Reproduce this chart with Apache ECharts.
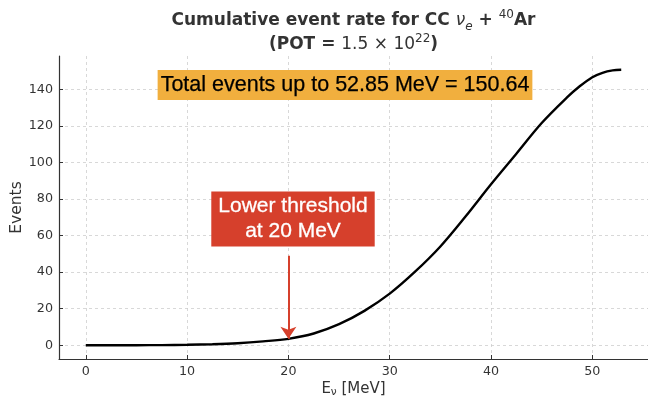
<!DOCTYPE html>
<html>
<head>
<meta charset="utf-8">
<script src="https://cdn.jsdelivr.net/npm/echarts@6/dist/echarts.min.js"></script>
<style>html,body{margin:0;padding:0;background:#fff}#c{width:648px;height:396px}</style>
</head>
<body>
<div id="c"></div>
<script>
// ---- data ----
const energies = [0, 2.5, 5, 7.5, 10, 12.5, 15, 17.5, 20, 22.5, 25, 27.5, 30, 32.5, 35, 37.5, 40, 42.5, 45, 47.5, 48.75, 50, 51, 52, 52.85];
const events   = [0, 0.0, 0.02, 0.08, 0.25, 0.55, 1.1, 2.1, 3.5, 6.4, 11.5, 18.8, 28.2, 40.2, 54.0, 70.5, 88.0, 104.7, 121.5, 135.5, 141.6, 146.6, 149.0, 150.3, 150.64];
const xTicks = [0, 10, 20, 30, 40, 50];
const yTicks = [0, 20, 40, 60, 80, 100, 120, 140];
const thresholdE = 20;
const thresholdEvents = 3.5;
const arrowStartEvents = 49;
const maxEnergy = 52.85;
const totalEvents = 150.64;

const xMin = -0.05 * maxEnergy, xMax = maxEnergy * 1.05;
const yMin = -0.05 * totalEvents, yMax = totalEvents * 1.05;

const axisColor = '#333';
const gridStyle = { color: '#cfcfcf', type: [3, 3], width: 0.8 };
const font = 'DejaVu Sans';

const chart = echarts.init(document.getElementById('c'), null, { renderer: 'canvas' });
chart.setOption({
  animation: false,
  grid: { left: 59, right: 0, top: 56, bottom: 37, containLabel: false, outerBoundsMode: 'none' },
  xAxis: {
    type: 'value', min: xMin, max: xMax,
    axisLine: { onZero: false, lineStyle: { color: axisColor, width: 1.2 } },
    axisTick: { inside: true, length: 4, customValues: xTicks, lineStyle: { color: axisColor } },
    axisLabel: { customValues: xTicks, margin: 6, color: axisColor, fontFamily: font, fontSize: 12.7 },
    splitLine: { show: true, lineStyle: gridStyle },
    name: '{n|E}{s|ν}{n| [MeV]}',
    nameLocation: 'middle', nameGap: 21, nameMoveOverlap: false,
    nameTextStyle: {
      rich: {
        n: { fontFamily: font, fontSize: 15, color: axisColor, lineHeight: 18 },
        s: { fontFamily: font, fontSize: 10.5, color: axisColor, lineHeight: 12, verticalAlign: 'bottom' }
      }
    }
  },
  yAxis: {
    type: 'value', min: yMin, max: yMax,
    axisLine: { show: true, onZero: false, lineStyle: { color: axisColor, width: 1.2 } },
    axisTick: { show: true, inside: true, length: 4, customValues: yTicks, lineStyle: { color: axisColor } },
    axisLabel: { customValues: yTicks, margin: 6, color: axisColor, fontFamily: font, fontSize: 12.7 },
    splitLine: { show: true, lineStyle: gridStyle },
    name: 'Events', nameLocation: 'middle', nameGap: 34, nameMoveOverlap: false,
    nameTextStyle: { fontFamily: font, fontSize: 15.5, color: axisColor }
  },
  series: [{
    type: 'line',
    data: energies.map((e, i) => [e, events[i]]),
    showSymbol: false, smooth: 0.35,
    lineStyle: { color: '#000', width: 2.4 },
    markLine: {
      silent: true, animation: false,
      symbol: ['none', 'arrow'], symbolSize: 12,
      label: { show: false },
      lineStyle: { color: '#D6402C', width: 2, type: 'solid' },
      data: [[{ coord: [thresholdE, arrowStartEvents] }, { coord: [thresholdE, thresholdEvents] }]]
    }
  }],
  graphic: [
    {
      type: 'text', x: 353.5, y: 9, z: 100,
      style: {
        text: '{b|Cumulative event rate for CC }{i|ν}{sub|e}{b| + }{sup|40}{b|Ar}\n{b|(POT = }{m|1.5 × 10}{sup|22}{b|)}',
        align: 'center', verticalAlign: 'top',
        rich: {
          b: { fontFamily: font, fontWeight: 'bold', fontSize: 17, fill: '#333', lineHeight: 24 },
          i: { fontFamily: font, fontStyle: 'italic', fontSize: 17, fill: '#333', lineHeight: 24 },
          m: { fontFamily: font, fontSize: 17, fill: '#333', lineHeight: 24 },
          sub: { fontFamily: font, fontStyle: 'italic', fontSize: 12, fill: '#333', lineHeight: 14, verticalAlign: 'bottom' },
          sup: { fontFamily: font, fontSize: 12, fill: '#333', lineHeight: 14, verticalAlign: 'top' }
        }
      }
    },
    {
      type: 'text', x: 345, y: 85, z: 100,
      style: {
        text: 'Total events up to ' + maxEnergy.toFixed(2) + ' MeV = ' + totalEvents.toFixed(2),
        fontFamily: 'Liberation Sans', fontSize: 21.5, fill: '#000',
        stroke: '#000', lineWidth: 0.25,
        align: 'center', verticalAlign: 'middle',
        backgroundColor: '#F1AF3E', padding: [4, 3, 3, 3], lineHeight: 23
      }
    },
    {
      type: 'text', x: 293, y: 219, z: 100,
      style: {
        text: 'Lower threshold\nat 20 MeV',
        fontFamily: 'Liberation Sans', fontSize: 21, fill: '#fff',
        stroke: '#fff', lineWidth: 0.3,
        align: 'center', verticalAlign: 'middle',
        backgroundColor: '#D6402C', padding: [3, 7, 2, 7], lineHeight: 25
      }
    }
  ]
});
</script>
</body>
</html>
